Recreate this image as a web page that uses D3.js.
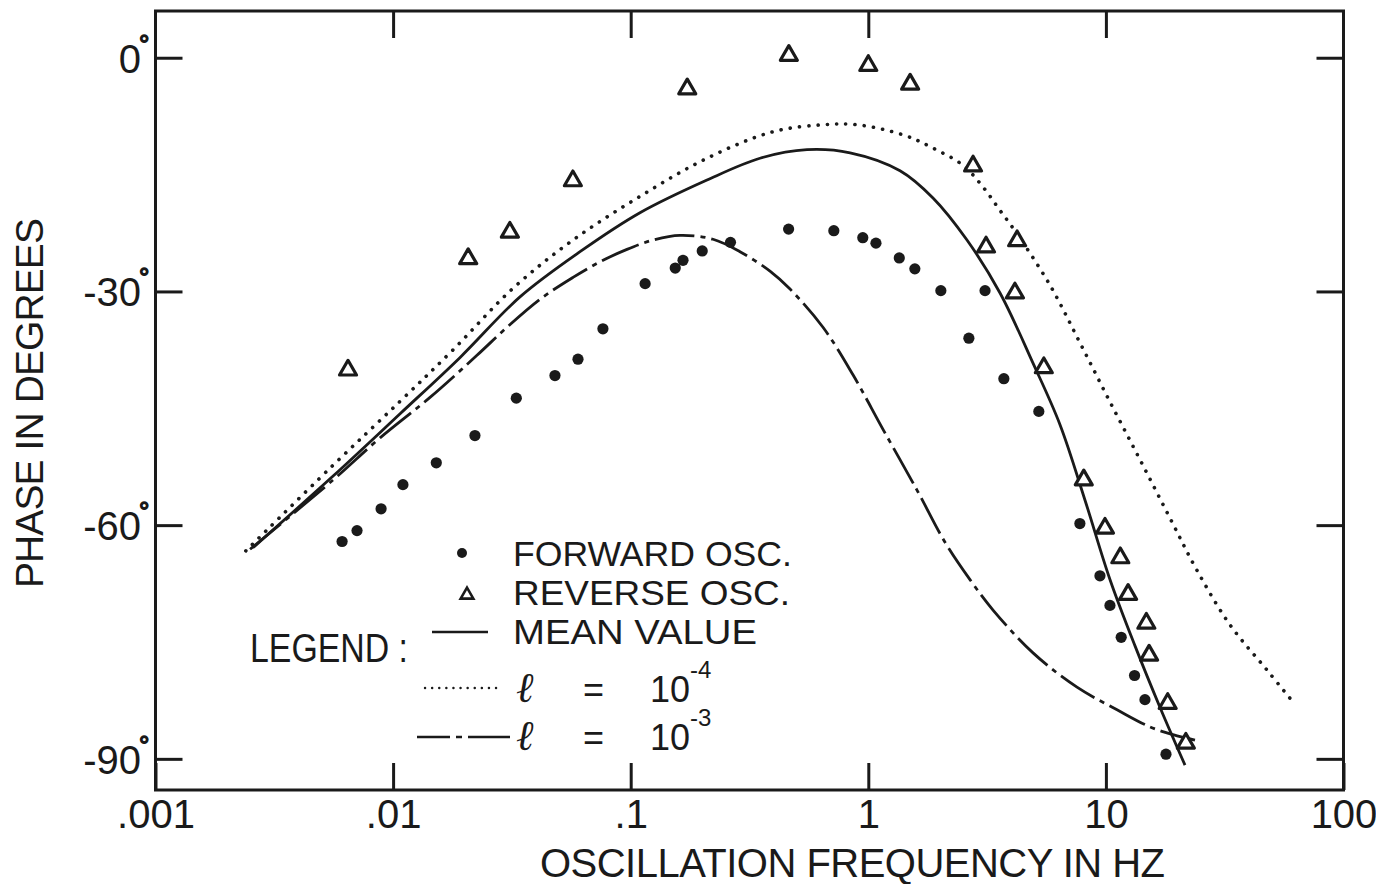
<!DOCTYPE html>
<html><head><meta charset="utf-8">
<script src="https://cdn.jsdelivr.net/npm/d3@7"></script>
<style>
html,body{margin:0;padding:0;background:#fff;}
svg{display:block;}
text{font-family:"Liberation Sans",Arial,sans-serif;fill:#1a1a1a;}
</style></head><body>
<svg id="chart" width="1376" height="884"></svg>
<script>
// ---- data ----
const xTickValues = [0.001, 0.01, 0.1, 1, 10, 100];
const xTickLabels = [".001", ".01", ".1", "1", "10", "100"];
const yTickValues = [0, -30, -60, -90];
const yTickLabels = ["0", "-30", "-60", "-90"];

const forwardFreq  = [0.0061,0.00705,0.0089,0.011,0.0152,0.0221,0.033,0.048,0.060,0.0764,0.115,0.154,0.166,0.20,0.263,0.462,0.716,0.948,1.077,1.35,1.57,2.02,2.65,3.10,3.72,5.22,7.77,9.44,10.4,11.6,13.2,14.6,17.9];
const forwardPhase = [-62.1,-60.7,-57.9,-54.8,-52.0,-48.5,-43.7,-40.8,-38.7,-34.8,-29.0,-27.0,-26.0,-24.8,-23.7,-22.0,-22.2,-23.1,-23.8,-25.7,-27.1,-29.9,-36.0,-29.9,-41.2,-45.4,-59.8,-66.5,-70.3,-74.4,-79.3,-82.4,-89.4];

const reverseFreq  = [0.00646,0.0207,0.031,0.0571,0.173,0.463,1.0,1.50,2.76,3.13,4.23,4.14,5.48,8.07,9.91,11.5,12.4,14.8,15.2,18.2,21.7];
const reversePhase = [-40.1,-25.8,-22.4,-15.8,-4.0,0.3,-1.0,-3.4,-13.9,-24.3,-23.5,-30.2,-39.8,-54.2,-60.4,-64.2,-68.9,-72.6,-76.7,-82.9,-88.0];

// mean value (solid)
const meanFreq  = [0.00257,0.00559,0.0107,0.0191,0.0342,0.0612,0.1094,0.2095,0.350,0.552,0.838,1.360,1.872,2.602,3.584,4.934,6.410,8.168,10.41,13.26,16.90,21.52];
const meanPhase = [-62.9,-53.7,-45.7,-38.5,-30.7,-24.9,-19.9,-15.7,-12.9,-11.8,-12.2,-14.5,-18.0,-23.4,-30.2,-39.2,-47.1,-56.8,-67.0,-75.5,-83.4,-90.8];

// l = 1e-4 (dotted)
const l4Freq  = [0.00240,0.00559,0.0107,0.01787,0.03195,0.05717,0.1094,0.2095,0.397,0.645,0.896,1.400,1.872,2.503,3.040,3.584,4.225,5.818,7.780,10.41,13.92,18.61,24.17,33.29,47.64,61.30];
const l4Phase = [-63.3,-52.3,-44.1,-37.5,-29.6,-23.4,-17.8,-12.9,-9.5,-8.6,-8.6,-9.9,-11.6,-13.8,-16.6,-19.6,-22.6,-29.2,-36.6,-44.2,-51.6,-59.1,-65.8,-72.8,-78.6,-82.7];

// l = 1e-3 (dash-dot)
const l3Freq  = [0.00250,0.00559,0.00881,0.0143,0.02254,0.03015,0.04153,0.05717,0.07428,0.09647,0.1242,0.1612,0.2220,0.2884,0.3857,0.4684,0.6446,0.8620,1.153,1.603,2.103,2.679,3.349,4.934,7.556,11.14,15.33,19.16,23.71];
const l3Phase = [-63.1,-54.2,-48.8,-43.6,-38.2,-34.6,-31.0,-28.2,-26.2,-24.6,-23.4,-22.8,-23.3,-24.9,-27.4,-29.7,-34.6,-40.7,-47.7,-55.5,-62.2,-67.0,-70.9,-76.4,-80.8,-83.7,-85.9,-86.9,-87.6];

// ---- scales ----
const INK = "#1a1a1a";
const svg = d3.select("#chart");
const x = d3.scaleLog().domain([0.001, 100]).range([155.5, 1343.5]);
const y = d3.scaleLinear().domain([-94, 6]).range([790, 11]);

// frame
svg.append("rect").attr("x", 155.5).attr("y", 11).attr("width", 1188).attr("height", 779)
  .attr("fill", "none").attr("stroke", INK).attr("stroke-width", 3);

function styleAxis(g) {
  g.select(".domain").remove();
  g.selectAll(".tick line").attr("stroke", INK).attr("stroke-width", 3);
  g.selectAll(".tick text").attr("fill", INK).attr("font-family", '"Liberation Sans", Arial, sans-serif');
}

// bottom axis with labels
svg.append("g").attr("transform", "translate(0,790)")
  .call(d3.axisBottom(x).tickValues(xTickValues)
    .tickFormat(d => xTickLabels[xTickValues.indexOf(d)])
    .tickSize(-27).tickPadding(10))
  .call(styleAxis)
  .call(g => g.selectAll(".tick text").attr("font-size", 40));
// top ticks
svg.append("g").attr("transform", "translate(0,11)")
  .call(d3.axisTop(x).tickValues([0.01, 0.1, 1, 10]).tickFormat("").tickSize(-27))
  .call(styleAxis);
// left axis with labels (degree sign as tspan)
svg.append("g").attr("transform", "translate(155.5,0)")
  .call(d3.axisLeft(y).tickValues(yTickValues)
    .tickFormat(d => yTickLabels[yTickValues.indexOf(d)])
    .tickSize(-27).tickPadding(6))
  .call(styleAxis)
  .call(g => g.selectAll(".tick text").attr("font-size", 40).attr("dy", "0.36em")
    .append("tspan").attr("dx", -2).attr("dy", -20).attr("font-size", 26)
    .attr("stroke", INK).attr("stroke-width", 1.4).text("°"));
// right ticks
svg.append("g").attr("transform", "translate(1343.5,0)")
  .call(d3.axisRight(y).tickValues(yTickValues).tickFormat("").tickSize(-27))
  .call(styleAxis);

// axis titles
svg.append("text").attr("x", 540).attr("y", 877).attr("font-size", 40)
  .attr("textLength", 625).attr("lengthAdjust", "spacing")
  .text("OSCILLATION FREQUENCY IN HZ");
svg.append("text").attr("transform", "translate(43,403) rotate(-90)")
  .attr("text-anchor", "middle").attr("font-size", 39)
  .attr("textLength", 370).attr("lengthAdjust", "spacing")
  .text("PHASE IN DEGREES");

// ---- curves ----
const line = d3.line().x(d => x(d[0])).y(d => y(d[1])).curve(d3.curveCatmullRom.alpha(0.5));
svg.append("path").datum(d3.zip(meanFreq, meanPhase)).attr("d", line)
  .attr("fill", "none").attr("stroke", INK).attr("stroke-width", 2.8);
svg.append("path").datum(d3.zip(l4Freq, l4Phase)).attr("d", line)
  .attr("fill", "none").attr("stroke", INK).attr("stroke-width", 3.6)
  .attr("stroke-linecap", "round").attr("stroke-dasharray", "0.1 9.2");
svg.append("path").datum(d3.zip(l3Freq, l3Phase)).attr("d", line)
  .attr("fill", "none").attr("stroke", INK).attr("stroke-width", 2.8)
  .attr("stroke-dasharray", "40 6 5 6");

// ---- markers ----
svg.append("g").selectAll("circle").data(d3.zip(forwardFreq, forwardPhase)).join("circle")
  .attr("cx", d => x(d[0])).attr("cy", d => y(d[1])).attr("r", 5.6).attr("fill", INK);
const tri = d3.symbol().type(d3.symbolTriangle).size(125);
svg.append("g").selectAll("path").data(d3.zip(reverseFreq, reversePhase)).join("path")
  .attr("transform", d => `translate(${x(d[0])},${y(d[1])})`).attr("d", tri)
  .attr("fill", "#fff").attr("stroke", INK).attr("stroke-width", 3.2).attr("stroke-linejoin", "round");

// ---- legend ----
const lg = svg.append("g");
lg.append("circle").attr("cx", 462).attr("cy", 553).attr("r", 5).attr("fill", INK);
lg.append("path").attr("transform", "translate(467,595)").attr("d", d3.symbol().type(d3.symbolTriangle).size(70))
  .attr("fill", "#fff").attr("stroke", INK).attr("stroke-width", 2.6);
lg.append("line").attr("x1", 432).attr("x2", 488).attr("y1", 632).attr("y2", 632)
  .attr("stroke", INK).attr("stroke-width", 2.6);
lg.append("line").attr("x1", 425).attr("x2", 502).attr("y1", 688).attr("y2", 688)
  .attr("stroke", INK).attr("stroke-width", 2.4).attr("stroke-linecap", "round").attr("stroke-dasharray", "0.1 7");
lg.append("line").attr("x1", 417).attr("x2", 510).attr("y1", 737).attr("y2", 737)
  .attr("stroke", INK).attr("stroke-width", 2.6).attr("stroke-dasharray", "33 6 6 6 42");

const legendTexts = [
  {t: "FORWARD  OSC.", x: 513, y: 566, w: 279},
  {t: "REVERSE  OSC.", x: 513, y: 605, w: 277},
  {t: "MEAN  VALUE",   x: 513, y: 644, w: 244},
];
legendTexts.forEach(o => lg.append("text").attr("x", o.x).attr("y", o.y).attr("font-size", 34.5)
  .attr("textLength", o.w).attr("lengthAdjust", "spacingAndGlyphs").text(o.t));
lg.append("text").attr("x", 250).attr("y", 662).attr("font-size", 41)
  .attr("textLength", 158).attr("lengthAdjust", "spacingAndGlyphs").text("LEGEND :");

function ellLine(yb, exp) {
  const t = lg.append("text").attr("y", yb).attr("font-size", 36);
  t.append("tspan").attr("x", 516).attr("font-family", '"DejaVu Serif", serif')
    .attr("font-style", "italic").attr("font-size", 42).text("ℓ");
  t.append("tspan").attr("x", 583).text("=");
  t.append("tspan").attr("x", 650).text("10");
  t.append("tspan").attr("dy", -24).attr("font-size", 24).text(exp);
}
ellLine(702, "-4");
ellLine(750, "-3");
</script>
</body></html>
